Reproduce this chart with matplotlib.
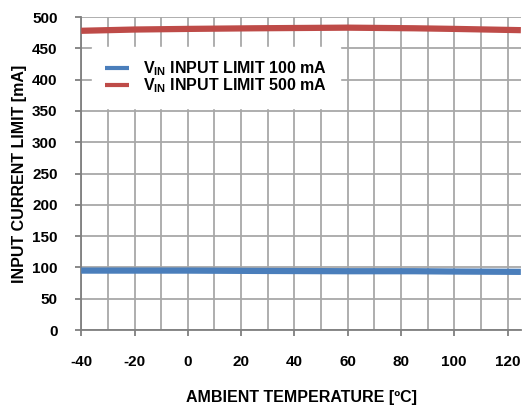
import numpy as np
import matplotlib
matplotlib.use("Agg")
import matplotlib.pyplot as plt

plt.rcParams['font.family'] = ['Liberation Sans', 'DejaVu Sans']
plt.rcParams['font.weight'] = 'bold'
plt.rcParams['axes.unicode_minus'] = False
plt.rcParams['mathtext.fontset'] = 'custom'
plt.rcParams['mathtext.rm'] = 'Liberation Sans:bold'
plt.rcParams['mathtext.it'] = 'Liberation Sans:bold'
plt.rcParams['mathtext.bf'] = 'Liberation Sans:bold'

# measured current limit vs ambient temperature
temp_c = [-40, -20, 0, 25, 60, 85, 100, 125]
limit_100ma = [95, 95, 95, 94.5, 94, 94, 93.5, 93]
limit_500ma = [478, 480, 481, 482, 483, 482, 481, 479]

series_labels = [r'V$_{\mathbf{IN}}$ INPUT LIMIT 100 mA',
                 r'V$_{\mathbf{IN}}$ INPUT LIMIT 500 mA']

blue = '#4a7ebb'
red = '#be4b48'
grid_col = '#a8a8a8'
axis_col = '#7f7f7f'

fig = plt.figure(figsize=(5.24, 4.05), dpi=100)
ax = fig.add_axes([0.155, 0.185, 0.839, 0.773])

ax.plot(temp_c, limit_100ma, color=blue, lw=4.5, solid_capstyle='butt',
        label=series_labels[0], zorder=3)
ax.plot(temp_c, limit_500ma, color=red, lw=4.5, solid_capstyle='butt',
        label=series_labels[1], zorder=3)

ax.set_xlim(-40, 125)
ax.set_ylim(0, 500)
ax.set_xticks(np.arange(-40, 121, 20))
ax.set_xticks(np.arange(-40, 126, 10), minor=True)
ax.set_yticks(np.arange(0, 501, 50))

ax.grid(True, which='both', color=grid_col, lw=1.3, zorder=0)
ax.set_axisbelow(True)

for side in ['top', 'right']:
    ax.spines[side].set_visible(False)
ax.spines['left'].set_color(axis_col)
ax.spines['bottom'].set_color(axis_col)
ax.spines['left'].set_linewidth(1.3)
ax.spines['bottom'].set_linewidth(1.3)

ax.tick_params(axis='both', which='major', length=4, width=1.3, color=axis_col,
               labelsize=11)
ax.tick_params(axis='y', which='major', pad=13)
ax.tick_params(axis='x', which='major', pad=14)
ax.tick_params(axis='x', which='minor', length=0)

for lbl in ax.get_xticklabels() + ax.get_yticklabels():
    lbl.set_fontweight('bold')

ax.set_xlabel('AMBIENT TEMPERATURE [ºC]', fontsize=11.5, fontweight='bold', labelpad=15)
ax.set_ylabel('INPUT CURRENT LIMIT [mA]', fontsize=11.5, fontweight='bold', labelpad=4)

leg = ax.legend(loc='upper left', bbox_to_anchor=(0.025, 0.905), frameon=True,
                fontsize=11.5, handlelength=1.5, handletextpad=0.9,
                labelspacing=-0.1, borderpad=0.8, borderaxespad=0)
leg.get_frame().set_facecolor('white')
leg.get_frame().set_edgecolor('white')
leg.get_frame().set_alpha(1)
leg.get_frame().set_boxstyle('square', pad=0)
for line in leg.get_lines():
    line.set_linewidth(3)

fig.savefig('out.png', dpi=100)
